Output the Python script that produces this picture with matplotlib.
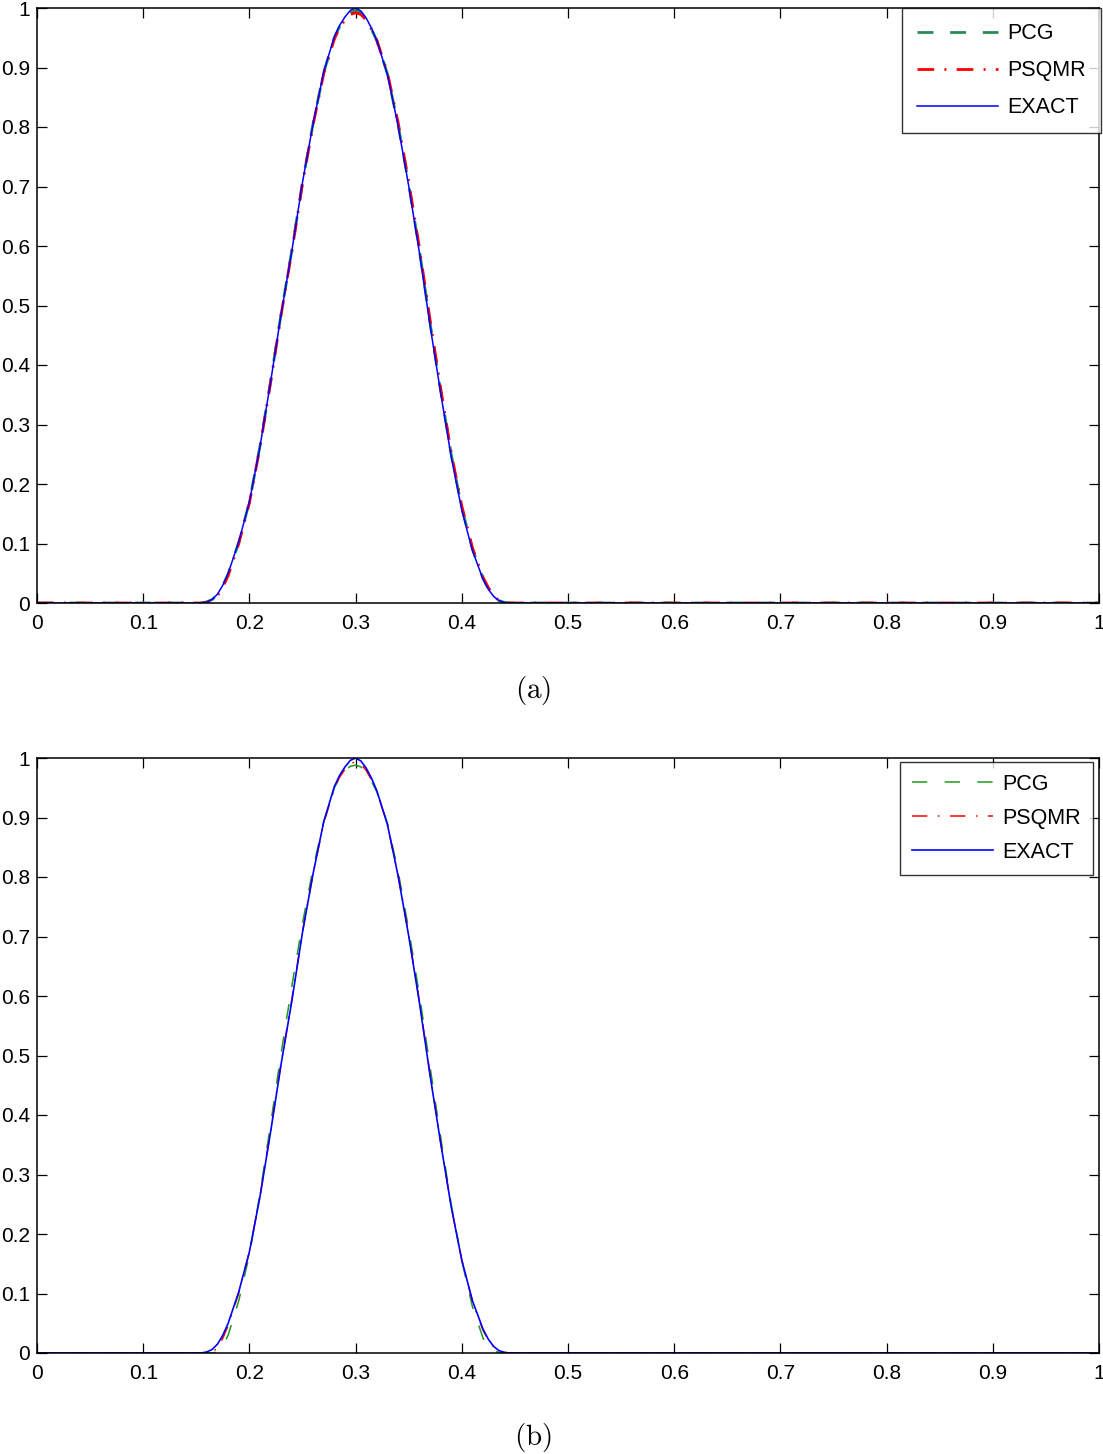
import matplotlib
matplotlib.use("Agg")
import matplotlib.pyplot as plt
from matplotlib.ticker import FixedLocator, FuncFormatter

plt.rcParams['font.family'] = ['Liberation Sans', 'DejaVu Sans']
plt.rcParams['mathtext.fontset'] = 'cm'
plt.rcParams['lines.scale_dashes'] = False

# ---- data ----
x = [0.0, 0.05, 0.10, 0.15, 0.155,
     0.16, 0.165, 0.17, 0.175, 0.18,
     0.19, 0.20, 0.21, 0.22, 0.23, 0.24, 0.25, 0.26, 0.27, 0.28,
     0.285, 0.29, 0.295, 0.30, 0.305, 0.31, 0.315,
     0.32, 0.33, 0.34, 0.35, 0.36, 0.37, 0.38, 0.39, 0.40, 0.41, 0.42,
     0.425, 0.43, 0.435, 0.44, 0.445, 0.45,
     0.50, 0.60, 0.70, 0.80, 0.90, 1.0]

exact = [0, 0, 0, 0, 0,
         0.002, 0.006, 0.015, 0.030, 0.050,
         0.103, 0.170, 0.263, 0.372, 0.487, 0.592, 0.707, 0.806, 0.893, 0.952,
         0.971, 0.985, 0.996, 1.000, 0.995, 0.983, 0.966,
         0.945, 0.888, 0.802, 0.701, 0.590, 0.468, 0.354, 0.246, 0.156, 0.088, 0.040,
         0.023, 0.011, 0.004, 0.001, 0, 0,
         0, 0, 0, 0, 0, 0]

pcg_a = [0, 0, 0, 0, 0,
         0.002, 0.006, 0.014, 0.029, 0.049,
         0.102, 0.170, 0.264, 0.373, 0.488, 0.593, 0.707, 0.806, 0.892, 0.950,
         0.969, 0.982, 0.992, 0.996, 0.992, 0.981, 0.964,
         0.945, 0.889, 0.804, 0.704, 0.594, 0.472, 0.358, 0.250, 0.160, 0.091, 0.041,
         0.024, 0.011, 0.004, 0.001, 0, 0,
         0, 0, 0, 0, 0, 0]

psqmr_a = [0, 0, 0, 0, 0,
           0.001, 0.005, 0.012, 0.027, 0.046,
           0.100, 0.168, 0.262, 0.371, 0.486, 0.591, 0.705, 0.804, 0.890, 0.948,
           0.967, 0.980, 0.989, 0.992, 0.989, 0.980, 0.964,
           0.946, 0.891, 0.808, 0.708, 0.598, 0.477, 0.362, 0.253, 0.163, 0.093, 0.043,
           0.026, 0.012, 0.004, 0.001, 0, 0,
           0, 0, 0, 0, 0, 0]

pcg_b = [0, 0, 0, 0, 0,
         0.0, 0.0, 0.002, 0.012, 0.030,
         0.088, 0.165, 0.268, 0.385, 0.505, 0.617, 0.722, 0.815, 0.893, 0.950,
         0.967, 0.979, 0.986, 0.988, 0.985, 0.976, 0.961,
         0.943, 0.890, 0.810, 0.712, 0.603, 0.482, 0.364, 0.250, 0.155, 0.078, 0.025,
         0.011, 0.004, 0.001, 0.0, 0, 0,
         0, 0, 0, 0, 0, 0]

psqmr_b = [0, 0, 0, 0, 0,
           0.0, 0.002, 0.008, 0.025, 0.046,
           0.101, 0.170, 0.264, 0.374, 0.489, 0.594, 0.708, 0.806, 0.891, 0.949,
           0.968, 0.981, 0.990, 0.994, 0.990, 0.979, 0.963,
           0.944, 0.888, 0.803, 0.703, 0.592, 0.470, 0.355, 0.247, 0.156, 0.087, 0.038,
           0.022, 0.010, 0.004, 0.001, 0, 0,
           0, 0, 0, 0, 0, 0]

labels = ["PCG", "PSQMR", "EXACT"]
ticks = [0, 0.1, 0.2, 0.3, 0.4, 0.5, 0.6, 0.7, 0.8, 0.9, 1]
captions = ["(a)", "(b)"]

W, H = 1103, 1454
fig = plt.figure(figsize=(W / 100, H / 100), dpi=100)

def px_axes(left, top, right, bottom):
    return fig.add_axes([left / W, 1 - bottom / H, (right - left) / W, (bottom - top) / H])

ax_a = px_axes(37, 8, 1099, 603)
ax_b = px_axes(37, 758, 1099, 1353)

fmt = FuncFormatter(lambda v, p: "%g" % v)

def style(ax):
    ax.set_xlim(0, 1)
    ax.set_ylim(0, 1)
    ax.xaxis.set_major_locator(FixedLocator(ticks))
    ax.yaxis.set_major_locator(FixedLocator(ticks))
    ax.xaxis.set_major_formatter(fmt)
    ax.yaxis.set_major_formatter(fmt)
    ax.tick_params(direction='in', length=7, width=0.9, top=True, right=True,
                   labelsize=15, colors='black')
    ax.tick_params(axis='x', pad=8)
    ax.tick_params(axis='y', pad=5)
    for s in ax.spines.values():
        s.set_linewidth(1.1)

# panel (a)
ax_a.plot(x, pcg_a, color='#2E8B57', lw=2.0, dashes=(11.5, 12), label=labels[0])
ax_a.plot(x, psqmr_a, color='#FF0000', lw=2.0, dashes=(12, 7.4, 1.4, 7.4), label=labels[1])
ax_a.plot(x, exact, color='#0000FF', lw=1.1, label=labels[2])
style(ax_a)
leg_a = ax_a.legend(loc='upper right', bbox_to_anchor=(1101 / W, 1 - 8 / H),
                    bbox_transform=fig.transFigure, prop={'size': 15.5}, frameon=True,
                    fancybox=False, edgecolor='black', handlelength=3.75, handletextpad=0.45,
                    labelspacing=0.75, borderpad=0.7, borderaxespad=0)
leg_a.get_frame().set_linewidth(1.0)

# panel (b)
ax_b.plot(x, pcg_b, color='#1E9A1E', lw=1.1, dashes=(11, 12.5), label=labels[0])
ax_b.plot(x, psqmr_b, color='#FF0000', lw=1.1, dashes=(11, 7.6, 1.2, 7.6), label=labels[1])
ax_b.plot(x, exact, color='#0000FF', lw=1.2, label=labels[2])
style(ax_b)
leg_b = ax_b.legend(loc='upper right', bbox_to_anchor=(1093 / W, 1 - 762 / H),
                    bbox_transform=fig.transFigure, prop={'size': 15.5}, frameon=True,
                    fancybox=False, edgecolor='black', handlelength=3.75, handletextpad=0.45,
                    labelspacing=0.6, borderpad=0.55, borderaxespad=0)
leg_b.get_frame().set_linewidth(1.0)

fig.text(533 / W, 1 - 690 / H, r'$\mathrm{' + captions[0] + '}$', ha='center', va='center', fontsize=21)
fig.text(533 / W, 1 - 1437 / H, r'$\mathrm{' + captions[1] + '}$', ha='center', va='center', fontsize=21)

fig.savefig("out.png", dpi=100)
